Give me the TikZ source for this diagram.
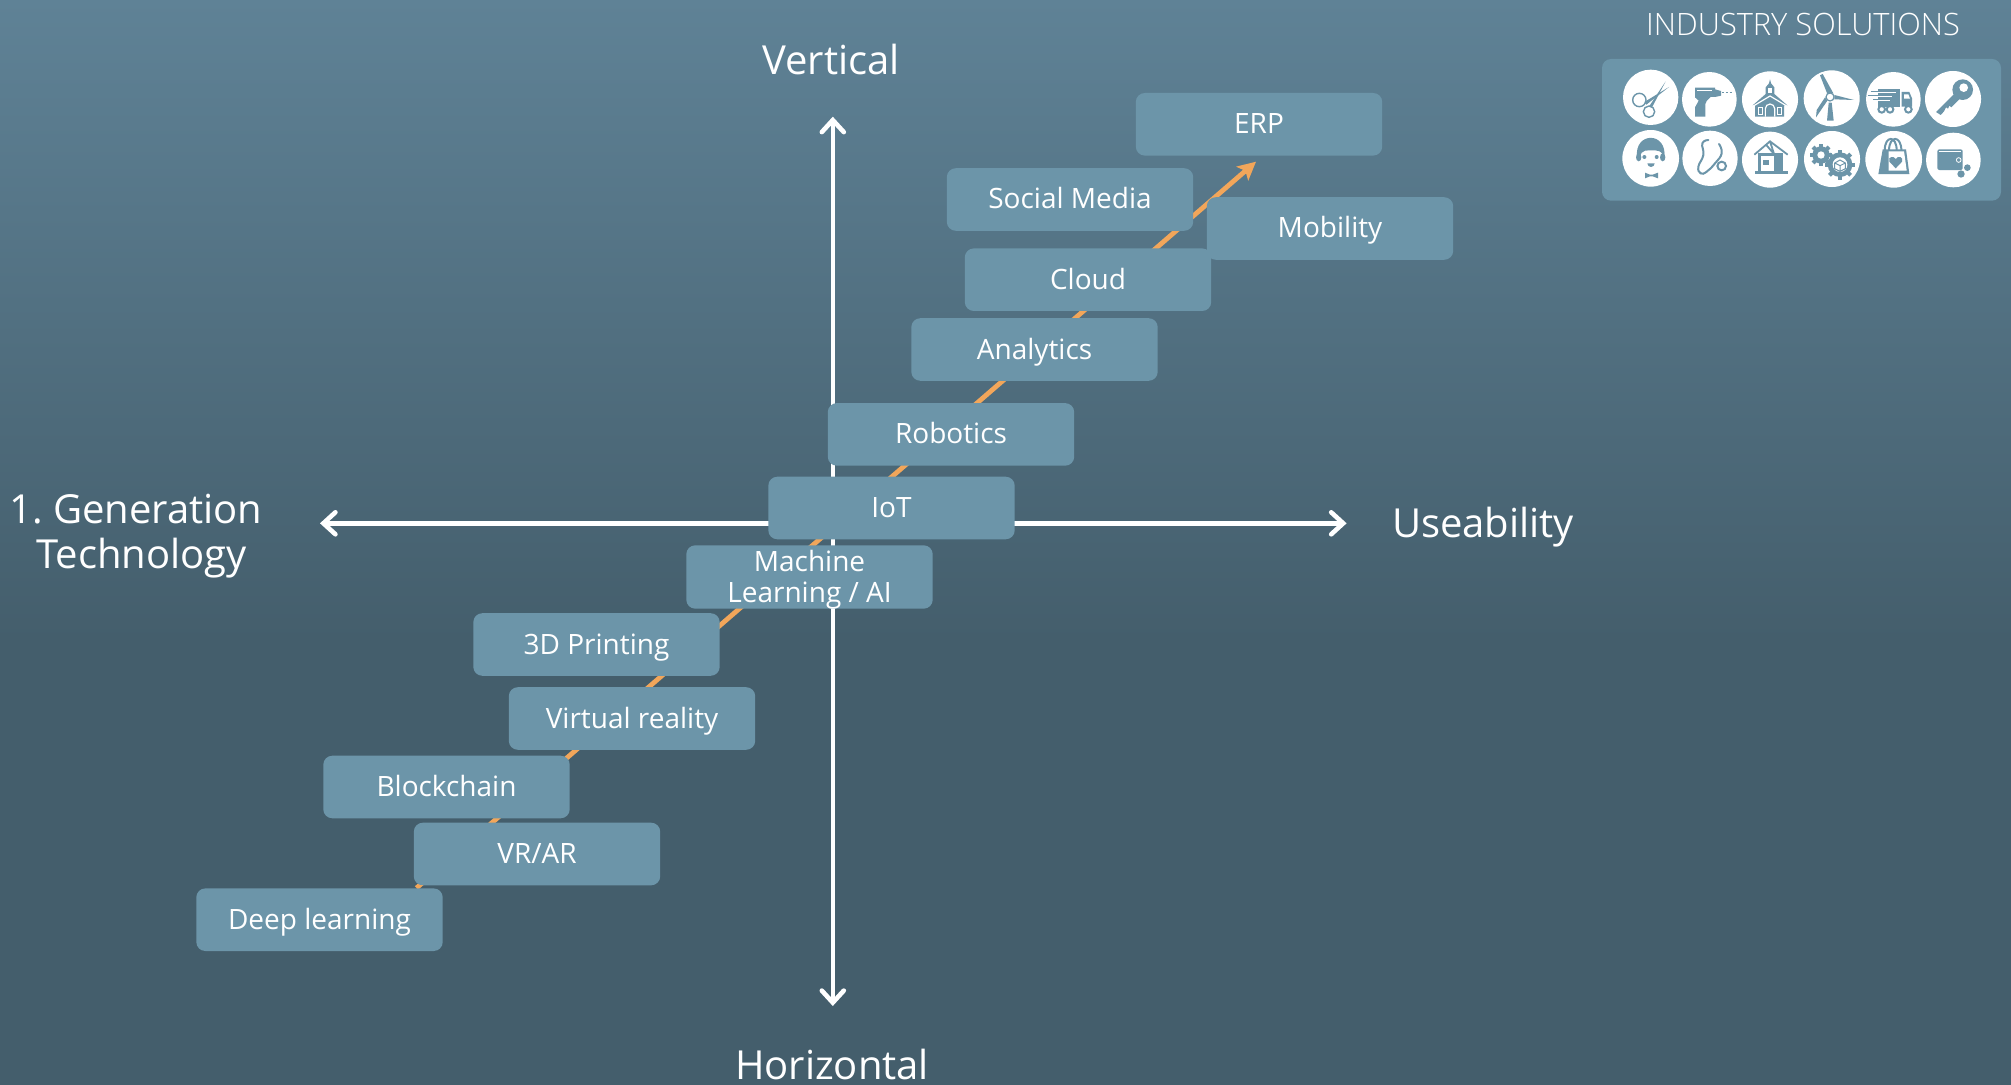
\documentclass[tikz,border=0pt]{standalone}
\usepackage{fontspec}
\setmainfont{Open Sans}
\newfontfamily\lightfont[UprightFont=* Light]{Open Sans}
\usepackage{xcolor}
\usepackage{tikz}
\usetikzlibrary{arrows.meta, calc, backgrounds}
\definecolor{slatetop}{HTML}{5F8296}
\definecolor{slatelow}{HTML}{445E6C}
\definecolor{panelblue}{HTML}{6C95A9}
\definecolor{trendorange}{HTML}{F2A65A}
\newcommand{\gearicon}[4]{% centre x, centre y, radius, hole
    \foreach \a in {0,45,...,315}
        \draw[panelblue, line width=2pt] (#1,#2) -- ++(\a:#3+8);
    \fill[panelblue] (#1,#2) circle (#3);
    \fill[white] (#1,#2) circle (#4);
}

\begin{document}
\begin{tikzpicture}[
    x=0.5pt,
    y=-0.5pt,
    techbox/.style={
        rectangle,
        rounded corners=4.5pt,
        fill=panelblue,
        minimum width=123.2pt,
        minimum height=31.3pt,
        inner sep=0pt,
        align=center,
        text=white,
        font=\fontsize{14}{15.5}\selectfont
    },
    techline/.style={
        techbox,
        text height=12.5pt,
        text depth=3pt
    },
    axislabel/.style={
        text=white,
        align=center,
        inner sep=0pt,
        font=\fontsize{20}{22.5}\selectfont
    },
    axisarrow/.style={
        draw=white,
        line width=2.3pt,
        -{Straight Barb[length=6pt,width=11pt,line width=2.3pt,line cap=round]}
    },
    trendarrow/.style={
        draw=trendorange,
        line width=2.4pt,
        -{Stealth[length=9pt,width=9pt,inset=2pt]}
    }
]
\useasboundingbox (0,0) rectangle (2011,1085);

% technologies along the trend
\node[techline] (erp) at (1259,124.3) {ERP};
\node[techline] (social) at (1070,199.5) {Social Media};
\node[techline] (mobility) at (1330,228.5) {Mobility};
\node[techline] (cloud) at (1088,279.7) {Cloud};
\node[techline] (analytics) at (1034.5,349.5) {Analytics};
\node[techline] (robotics) at (951,434.4) {Robotics};
\node[techline] (iot) at (891.5,508) {IoT};
\node[techbox, text height=28.7pt, text depth=3pt] (machine) at (809.5,577) {Machine\\Learning / AI};
\node[techline] (printing) at (596.5,644.5) {3D Printing};
\node[techline] (virtual) at (632,718.5) {Virtual reality};
\node[techline] (blockchain) at (446.5,787) {Blockchain};
\node[techline] (vrar) at (537,854) {VR/AR};
\node[techline] (deep) at (319.5,919.7) {Deep learning};

% axis labels
\node[axislabel] (vertical) at (831,60) {Vertical};
\node[axislabel] (horizontal) at (832,1064) {Horizontal};
\node[axislabel] (useability) at (1483,527) {Useability};
\node[axislabel] (generation) at (136,536) {1.\kern-2pt{} Generation\\\hspace*{5.8pt}Technology};
\node[text=white, inner sep=0pt, font=\lightfont\fontsize{15.4}{17}\selectfont] (industry) at (1803,24) {INDUSTRY SOLUTIONS};

\coordinate (axiscentre) at (832.8,523.3);
\coordinate (axistop) at (832.8,116.7);
\coordinate (axisbottom) at (832.8,1006);
\coordinate (axisleft) at (320,523.3);
\coordinate (axisright) at (1346.6,523.3);
\coordinate (trendstart) at ($(deep.north)+(97,0)$);
\coordinate (trendtip) at (1256,161.7);

\begin{pgfonlayer}{background}
    \fill[top color=slatetop, bottom color=slatelow] (0,0) rectangle (2011,640);
    \fill[slatelow] (0,640) rectangle (2011,1085);
    \draw[axisarrow] (axiscentre) -- (axistop);
    \draw[axisarrow] (axiscentre) -- (axisbottom);
    \draw[axisarrow] (axiscentre) -- (axisleft);
    \draw[axisarrow] (axiscentre) -- (axisright);
    \draw[trendarrow] (trendstart) -- (trendtip);
\end{pgfonlayer}

% industry icons, traced in 3x units
\begin{scope}[shift={(1590,0)}, x=0.16667pt, y=-0.16667pt]
    \fill[panelblue, rounded corners=4.5pt] (36,177) rectangle (1233,602);
    \foreach \cx/\cy/\cr in {182/292/83, 358/298/82, 540/298/84, 725/295/84, 910/298/82, 1089/297/84,
        182/475/85, 360/475/83, 540/479/84, 726/477/84, 911/478/85, 1090/480/82}
        \fill[white] (\cx,\cy) circle (\cr);

    % scissors
    \draw[panelblue, line width=0.7pt] (148,300) circle (20) (177,335) circle (17);
    \fill[panelblue] (163,306) -- (237,261) -- (169,314) -- cycle;
    \fill[panelblue] (178,318) -- (227,244) -- (186,322) -- cycle;
    % drill
    \fill[panelblue] (315,263) -- (375,263) -- (375,268) -- (393,273) -- (393,287) -- (375,291) -- (362,291)
        -- (350,303) -- (346,312) -- (346,350) -- (315,350) -- (315,322) -- (326,302) -- (315,292) -- cycle;
    \draw[white, line width=0.7pt] (322,272) -- (365,272);
    \draw[panelblue, line width=0.8pt, dash pattern=on 1.1pt off 0.8pt] (396,278) -- (425,278);
    % church
    \fill[panelblue] (540,238) -- (543,250) -- (553,262) -- (553,282) -- (592,316) -- (582,316) -- (582,350)
        -- (495,350) -- (495,316) -- (488,316) -- (527,282) -- (527,262) -- (537,250) -- cycle;
    \fill[white] (534,264) rectangle (546,278);
    \draw[white, line width=0.6pt] (490,318) -- (540,288) -- (590,318);
    \draw[white, line width=0.6pt] (526,350) -- (526,326) arc (180:360:14) -- (554,350);
    \draw[white, line width=0.5pt] (505,322) rectangle (517,345) (563,322) rectangle (575,345);
    % wind turbine
    \fill[panelblue] (712,282) -- (690,226) -- (698,222) -- (730,280) -- cycle;
    \fill[panelblue] (733,285) -- (792,300) -- (733,298) -- cycle;
    \fill[panelblue] (712,302) -- (678,352) -- (680,330) -- (705,292) -- cycle;
    \fill[panelblue] (716,308) -- (711,362) -- (731,362) -- (725,308) -- cycle;
    \draw[panelblue, fill=white, line width=0.6pt] (720,291) circle (12);
    % truck
    \fill[panelblue] (864,266) rectangle (930,320);
    \fill[panelblue] (935,276) -- (958,276) -- (966,295) -- (966,320) -- (935,320) -- cycle;
    \fill[white] (942,283) -- (955,283) -- (960,296) -- (942,296) -- cycle;
    \foreach \ly/\lx/\rx in {276/842/918, 288/835/905, 300/850/900}{
        \draw[white, line width=1pt] (\lx,\ly) -- (\rx,\ly);
        \draw[panelblue, line width=0.5pt] (\lx,\ly) -- (\rx,\ly);
    }
    \foreach \wx in {875,900,955}
        \draw[panelblue, fill=white, line width=1pt] (\wx,328) circle (10);
    % key
    \fill[panelblue] (1118,269) circle (31);
    \fill[white] (1121,263) circle (13);
    \fill[panelblue] (1092,282) -- (1108,298) -- (1084,322) -- (1078,317) -- (1074,326) -- (1068,322) -- (1062,334)
        -- (1052,345) -- (1038,336) -- cycle;
    % boy
    \fill[panelblue] (141,472) .. controls (132,394) and (232,394) .. (223,472)
        -- (214,458) .. controls (208,450) and (190,450) .. (165,452) .. controls (156,454) and (152,460) .. (150,472) -- cycle;
    \fill[panelblue] (146,472) ellipse (8 and 12) (218,472) ellipse (8 and 12);
    \fill[panelblue] (163,471) circle (6) (200,471) circle (6);
    \fill[panelblue] (172,490) -- (194,490) arc (0:180:11) -- cycle;
    \fill[panelblue] (165,518) -- (180,524) -- (188,524) -- (204,518) -- (204,535) -- (188,529) -- (180,529) -- (165,535) -- cycle;
    % stethoscope
    \draw[panelblue, line width=1pt, line cap=round] plot[smooth, tension=0.8] coordinates
        {(355,420) (337,430) (340,465) (325,500) (332,520) (350,515) (375,490) (395,460) (387,432)};
    \draw[panelblue, line width=1pt] (395,498) circle (13);
    % unfinished house
    \fill[panelblue] (495,513) rectangle (593,522);
    \fill[panelblue] (505,460) rectangle (580,513);
    \fill[white] (512,468) rectangle (552,513);
    \fill[panelblue] (520,480) rectangle (538,495);
    \draw[panelblue, line width=0.9pt] (493,464) -- (540,424) -- (593,464) (528,434) -- (552,462) (540,424) -- (552,462);
    % gears
    \gearicon{693}{465}{26}{11}
    \gearicon{750}{494}{37}{22}
    \draw[panelblue, line width=0.5pt] (750,480) -- (766,489) -- (766,506) -- (750,514) -- (734,506) -- (734,489) -- cycle
        (734,489) -- (750,497) -- (766,489) (750,497) -- (750,514);
    % bag
    \fill[panelblue] (878,448) -- (948,448) -- (958,522) -- (865,522) -- cycle;
    \fill[white] (896,454) -- (942,454) -- (950,512) -- (896,512) -- cycle;
    \draw[panelblue, line width=1pt] (884,452) .. controls (884,405) and (920,405) .. (920,452);
    \draw[panelblue, line width=1pt] (897,452) .. controls (897,405) and (934,405) .. (934,452);
    \fill[panelblue] (917,505) -- (898,485) .. controls (892,470) and (911,466) .. (917,477) .. controls (923,466) and (942,470) .. (936,485) -- cycle;
    % wallet
    \fill[panelblue, rounded corners=1pt] (1042,448) rectangle (1118,510);
    \draw[white, line width=0.3pt] (1046,453) -- (1112,453);
    \draw[white, fill=panelblue, line width=0.4pt] (1106,480) circle (7);
    \fill[panelblue] (1132,503) circle (10) (1113,522) circle (11);
\end{scope}

\end{tikzpicture}
\end{document}
